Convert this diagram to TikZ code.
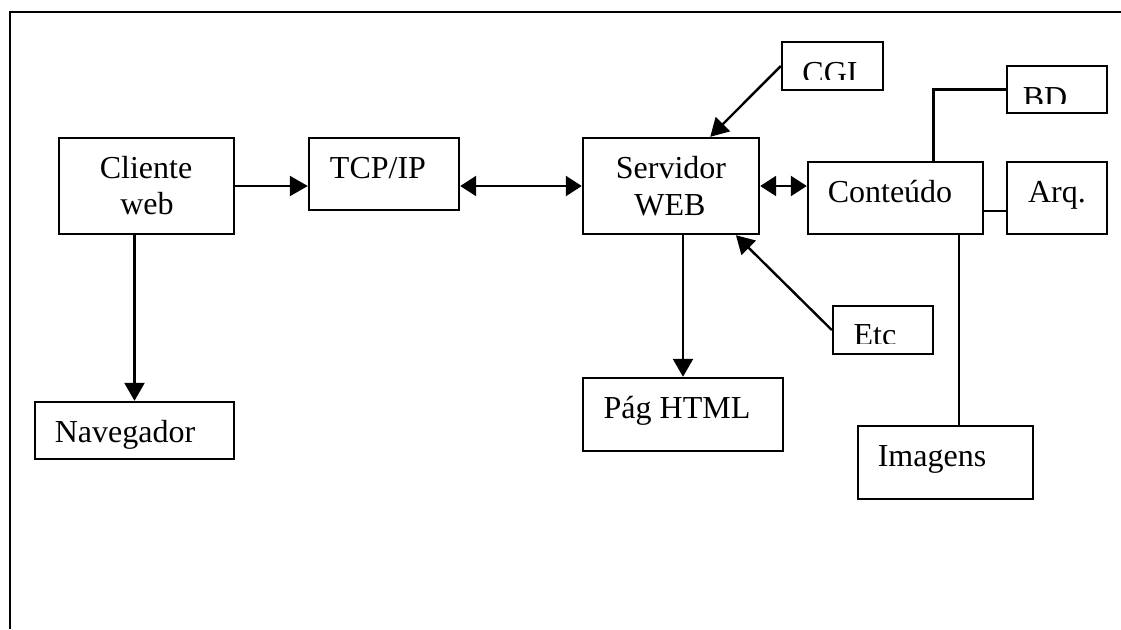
\documentclass[tikz,border=0pt]{standalone}
\usepackage{fontspec}
\setmainfont{Liberation Serif}
\usetikzlibrary{arrows.meta,fit,calc}
\begin{document}
\begin{tikzpicture}[x=0.5pt,y=-0.5pt,
  box/.style={draw, line width=1.2pt, inner sep=0pt, rectangle},
  txt/.style={anchor=base, inner sep=0pt, font=\fontsize{16}{19}\selectfont},
  arr/.style={line width=1.2pt, -{Triangle[length=9pt,width=10pt]}},
  darr/.style={line width=1.2pt, {Triangle[length=8pt,width=10pt]}-{Triangle[length=8pt,width=10pt]}},
  ln/.style={line width=1.2pt}]
\useasboundingbox (0,0) rectangle (1121,629);
% frame
\draw[line width=1.2pt] (10,629) -- (10,12) -- (1121,12);
% boxes
\node[box, fit={(59,138) (234,234)}] (cli) {};
\node[box, fit={(309,138) (459,210)}] (tcp) {};
\node[box, fit={(35,402) (234,459)}] (nav) {};
\node[box, fit={(583,138) (759,234)}] (serv) {};
\node[box, fit={(583,378) (783,451)}] (pag) {};
\node[box, fit={(782,42) (883,90)}] (cgi) {};
\node[box, fit={(1007,66) (1107,113)}] (bd) {};
\node[box, fit={(808,162) (983,234)}] (cont) {};
\node[box, fit={(1007,162) (1107,234)}] (arq) {};
\node[box, fit={(833,306) (933,354)}] (etc) {};
\node[box, fit={(858,426) (1033,499)}] (img) {};
% texts
\node[txt] (tcli1) at (146,178) {Cliente};
\node[txt] (tcli2) at (147,214) {web};
\node[txt] (ttcp) at (378,178) {TCP/IP};
\node[txt] (tnav) at (125,442) {Navegador};
\node[txt] (tserv1) at (671,178) {Servidor};
\node[txt] (tserv2) at (670,215) {WEB};
\node[txt] (tpag) at (677,418) {Pág HTML};
\node[txt] (tcont) at (890,202) {Conteúdo};
\node[txt] (tarq) at (1057,202) {Arq.};
\node[txt] (timg) at (932,466) {Imagens};
\begin{scope}
\clip (783,43) rectangle (882,79);
\node[txt] (tcgi) at (830,83) {CGI};
\end{scope}
\begin{scope}
\clip (1008,67) rectangle (1106,103);
\node[txt] (tbd) at (1045,108) {BD};
\end{scope}
\begin{scope}
\clip (834,307) rectangle (932,343);
\node[txt] (tetc) at (875,345) {Etc};
\end{scope}
% connectors
\draw[arr] (cli.east) -- (cli.east -| tcp.west);
\draw[arr] (nav.north |- cli.south) -- (nav.north);
\draw[darr] (tcp.east |- serv.west) -- (serv.west);
\draw[darr] (serv.east) -- (serv.east -| cont.west);
\draw[arr] (pag.north |- serv.south) -- (pag.north);
\draw[arr] (cgi.west) -- ($(serv.north west)!0.72!(serv.north east)$);
\draw[arr] (etc.west) -- ($(serv.south west)!0.864!(serv.south east)$);
\coordinate (ctop) at ($(cont.north west)!0.714!(cont.north east)$);
\draw[ln] (ctop) |- (bd.west);
\coordinate (aw) at ($(arq.west)+(0,13)$);
\draw[ln] (cont.east |- aw) -- (aw);
\coordinate (cbot) at ($(cont.south west)!0.857!(cont.south east)$);
\draw[ln] (cbot) -- (cbot |- img.north);
\end{tikzpicture}
\end{document}
